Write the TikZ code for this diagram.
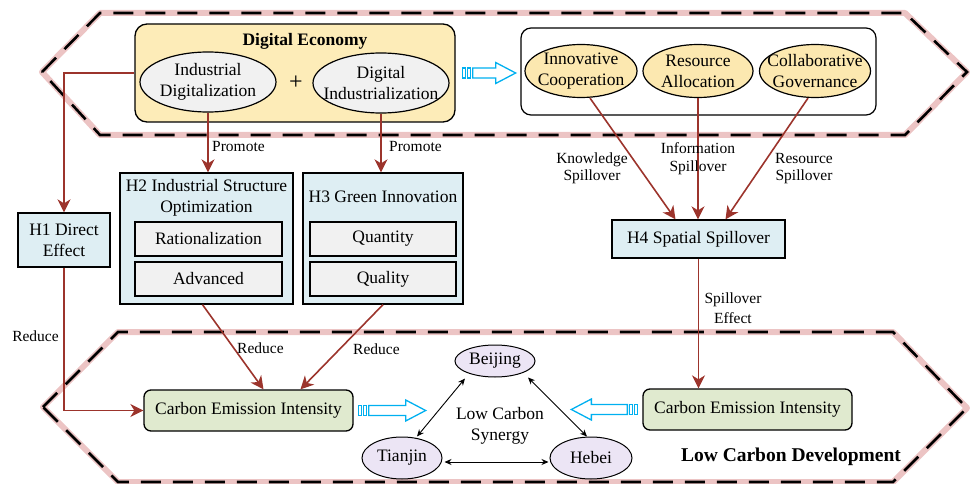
\documentclass[tikz,border=0pt]{standalone}
\usepackage{fontspec}
\setmainfont{Liberation Serif}
\usetikzlibrary{arrows.meta,calc,shapes.geometric}
\definecolor{brn}{RGB}{156,52,44}
\definecolor{deyel}{RGB}{253,236,184}
\definecolor{spyel}{RGB}{252,232,176}
\definecolor{igray}{RGB}{241,241,241}
\definecolor{hblue}{RGB}{222,238,243}
\definecolor{cgreen}{RGB}{224,234,207}
\definecolor{cpurp}{RGB}{236,229,245}
\definecolor{cyanc}{RGB}{0,176,240}
\definecolor{pinkg}{RGB}{236,196,196}
\tikzset{
  mainfont/.style={font=\fontsize{17.5}{21}\selectfont},
  every node/.style={mainfont, inner sep=0pt, align=center},
  box/.style={draw, line width=1.3pt, rectangle},
  hbox/.style={box, fill=hblue},
  ibox/.style={box, fill=igray},
  ell/.style={draw, ellipse, line width=1.2pt},
  lbl/.style={font=\fontsize{15.5}{17.5}\selectfont},
  brline/.style={draw=brn, line width=1.6pt},
  brarrow/.style={brline, -{Stealth[length=13pt,width=13pt,inset=4pt]}},
  blkarrow/.style={line width=0.9pt, {Stealth[length=7pt,width=6pt]}-{Stealth[length=7pt,width=6pt]}},
  cy/.style={draw=cyanc, line width=1.3pt, fill=white},
  pinkglow/.style={draw=pinkg, line width=6pt, line join=round},
  hexdash/.style={draw=black, line width=2.6pt, dash pattern=on 20pt off 12pt},
  pics/hollowr/.style={code={
    \draw[cy] (0,-5) rectangle (3,5);
    \draw[cy] (5,-5) rectangle (8,5);
    \draw[cy] (10,-5) -- ({#1-20},-5) -- ({#1-20},-10.5) -- (#1,0) -- ({#1-20},10.5) -- ({#1-20},5) -- (10,5) -- cycle;
  }},
  pics/hollowl/.style={code={
    \draw[cy] (0,-5) rectangle (-3,5);
    \draw[cy] (-5,-5) rectangle (-8,5);
    \draw[cy] (-10,-5) -- ({20-#1},-5) -- ({20-#1},-10.5) -- (-#1,0) -- ({20-#1},10.5) -- ({20-#1},5) -- (-10,5) -- cycle;
  }}
}
\begin{document}
\begin{tikzpicture}[x=1pt,y=-1pt]
\useasboundingbox (0,0) rectangle (970,484);
% background hexagons
\draw[pinkglow] (42,72) -- (100,13) -- (905,13) -- (967,72) -- (905,135) -- (100,135) -- cycle;
\draw[hexdash] (42,72) -- (100,13) -- (905,13) -- (967,72) -- (905,135) -- (100,135) -- cycle;
\draw[pinkglow] (43,407) -- (118,332) -- (893,332) -- (967,408) -- (893,482) -- (118,482) -- cycle;
\draw[hexdash] (43,407) -- (118,332) -- (893,332) -- (967,408) -- (893,482) -- (118,482) -- cycle;

% Digital economy
\node[box, fill=deyel, rounded corners=12pt, minimum width=320pt, minimum height=98pt] (de) at (295,73) {};
\node[font=\fontsize{17.5}{21}\selectfont\bfseries] (detitle) at (305,41) {Digital Economy};
\node[ell, fill=igray, minimum width=136pt, minimum height=60pt, label={[align=center]center:Industrial\\Digitalization}] (inddig) at (208,82) {};
\node[ell, fill=igray, minimum width=136pt, minimum height=60pt, label={[align=center]center:Digital\\Industrialization}] (digind) at (381,83) {};
\node[font=\fontsize{24}{24}\selectfont] (plus) at (296,83) {+};

% spatial mechanisms
\node[box, line width=1.2pt, fill=white, rounded corners=10pt, minimum width=355pt, minimum height=87pt] (spill) at (698.5,71.5) {};
\node[ell, fill=spyel, minimum width=112pt, minimum height=53pt, label={[align=center]center:Innovative\\Cooperation}] (icoop) at (581,71) {};
\node[ell, fill=spyel, minimum width=110pt, minimum height=53pt, label={[align=center]center:Resource\\Allocation}] (ralloc) at (698,71) {};
\node[ell, fill=spyel, minimum width=111pt, minimum height=53pt, label={[align=center]center:Collaborative\\Governance}] (cgov) at (815,71) {};

% hypotheses
\node[hbox, minimum width=92pt, minimum height=54pt] (h1) at (64,240) {H1 Direct\\Effect};
\node[hbox, minimum width=173pt, minimum height=131pt] (h2) at (206.5,238.5) {};
\node (h2t) at (206.5,197.5) {H2 Industrial Structure\\Optimization};
\node[ibox, minimum width=147pt, minimum height=34pt] (ration) at (208.5,239) {Rationalization};
\node[ibox, minimum width=147pt, minimum height=34pt] (adv) at (208.5,279) {Advanced};
\node[hbox, minimum width=160pt, minimum height=131pt] (h3) at (383,238.5) {};
\node (h3t) at (383,197) {H3 Green Innovation};
\node[ibox, minimum width=146pt, minimum height=34pt] (quan) at (383,239) {Quantity};
\node[ibox, minimum width=146pt, minimum height=34pt] (qual) at (383,279) {Quality};
\node[hbox, minimum width=173pt, minimum height=38pt] (h4) at (698.5,239) {H4 Spatial Spillover};

% carbon emission intensity
\node[box, fill=cgreen, rounded corners=7pt, minimum width=209pt, minimum height=41pt] (ceil) at (248.5,410.5) {Carbon Emission Intensity};
\node[box, fill=cgreen, rounded corners=7pt, minimum width=209pt, minimum height=41pt] (ceir) at (747.5,409.5) {Carbon Emission Intensity};

% cities
\node[ell, line width=1pt, fill=cpurp, minimum width=80pt, minimum height=32pt] (beijing) at (495,361) {Beijing};
\node[ell, line width=1pt, fill=cpurp, minimum width=80pt, minimum height=42pt] (tianjin) at (402,458) {Tianjin};
\node[ell, line width=1pt, fill=cpurp, minimum width=82pt, minimum height=42pt] (hebei) at (591,458) {Hebei};
\node (lcs) at (500,426) {Low Carbon\\Synergy};
\node[font=\fontsize{19.5}{22}\selectfont\bfseries] (lcd) at (791,457) {Low Carbon Development};

% brown connectors
\draw[brarrow] (de.west) -| (h1.north);
\draw[brarrow] (h1.south) |- (ceil.west);
\draw[brarrow] (inddig.south) -- (inddig.south |- h2.north);
\draw[brarrow] (digind.south) -- (digind.south |- h3.north);
\draw[brarrow] ($(h2.south)+(-4,0)$) -- ($(ceil.north)+(15,0)$);
\draw[brarrow] (h3.south) -- ($(ceil.north)+(52,0)$);
\draw[brarrow] ($(icoop.south)+(9,0)$) -- ($(h4.north)+(-23,0)$);
\draw[brarrow] (ralloc.south) -- (ralloc.south |- h4.north);
\draw[brarrow] ($(cgov.south)+(-7,0)$) -- ($(h4.north)+(27,0)$);
\draw[brarrow] (h4.south) -- (h4.south |- ceir.north);

% labels
\node[lbl, anchor=west] (p1) at (212,147) {Promote};
\node[lbl, anchor=west] (p2) at (389,147) {Promote};
\node[lbl] (r1) at (35.5,336) {Reduce};
\node[lbl, anchor=west] (r2) at (237,348) {Reduce};
\node[lbl, anchor=west] (r3) at (353,349) {Reduce};
\node[lbl] (ks) at (592,168.5) {Knowledge\\Spillover};
\node[lbl] (is) at (698,158.5) {Information\\Spillover};
\node[lbl] (rs) at (804,168.5) {Resource\\Spillover};
\node[lbl, font=\fontsize{15.5}{20}\selectfont] (se) at (733,308) {Spillover\\Effect};

% black synergy arrows
\draw[blkarrow] ($(beijing.south)+(-30,1)$) -- ($(tianjin.north)+(15,0)$);
\draw[blkarrow] ($(beijing.south)+(33,0)$) -- ($(hebei.north)+(-4,0)$);
\draw[blkarrow] ($(tianjin.east)+(2,4)$) -- ($(hebei.west)+(-1,4)$);

% hollow cyan arrows
\pic at ($(de.east)+(7,0)$) {hollowr=53};
\pic at ($(ceil.east)+(5,0)$) {hollowr=67};
\pic at ($(ceir.west)+(-5,0)$) {hollowl=66};
\end{tikzpicture}
\end{document}
